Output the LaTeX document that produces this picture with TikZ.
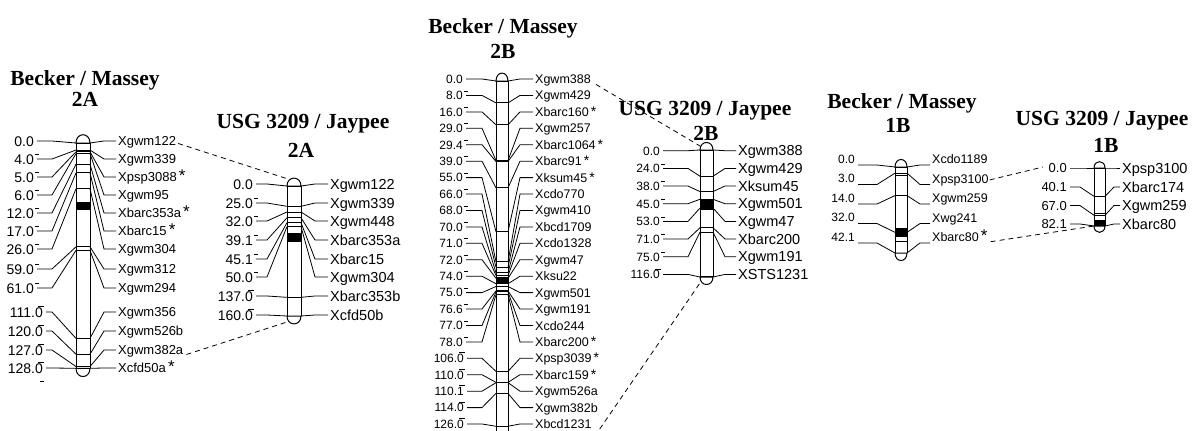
\documentclass[tikz,border=0pt]{standalone}
\usepackage{fontspec}
\setmainfont{Liberation Serif}
\setsansfont{Liberation Sans}
\usetikzlibrary{calc}
\tikzset{
  conn/.style={line width=0.8pt},
  barl/.style={line width=1pt},
  dconn/.style={line width=0.8pt, dash pattern=on 5pt off 4pt},
  ttl/.style={font=\rmfamily\bfseries\fontsize{21.5}{22}\selectfont, inner sep=0pt, anchor=base},
  lab/.style={inner sep=0pt},
}
\def\stfs{18}
\newcommand\st{\,\raisebox{0pt}{\fontsize{\stfs}{\stfs}\selectfont *}}
\newcommand\mapdraw[1]{%
  \fill[white] (\xl,\yo) rectangle (\xr,\yb);
  \extra
  \foreach \cmv/\ryv/\nmv/\mkv/\tkv [count=\i] in \rows {
    \pgfmathsetmacro\my{\yo+\kk*\cmv}
    \pgfmathsetmacro\nxx{\cmv>=100?\nxb:\nx}
    \pgfmathsetmacro\ly{\ryv+\loff}
    \node[lab, font=\sffamily\fontsize{\nfs}{\nfs}\selectfont, anchor=base east] (#1n\i) at (\nxx,\ryv+0.36*\nfs) {\nmv};
    \node[lab, font=\sffamily\fontsize{\mfs}{\mfs}\selectfont, anchor=base west] (#1m\i) at (\rt,\ryv+0.36*\mfs) {\mkv};
    \coordinate (#1a\i) at (\xl,\my);
    \coordinate (#1b\i) at (\xr,\my);
    \coordinate (#1p\i) at (\nxx+3,\ly);
    \coordinate (#1q\i) at (\rt-2,\ly);
    \draw[barl] (#1a\i) -- (#1b\i);
    \draw[conn] (#1p\i) -- (\lb,\ly) -- (#1a\i);
    \draw[conn] (#1b\i) -- (\rb,\ly) -- (#1q\i);
    \ifnum\tkv=1 \draw[conn] (\nxx+1,\ryv-4.5) -- ++(4,0);\fi
    \ifnum\tkv=2 \draw[conn] (\nxx-5,\ryv-5.5) -- ++(6,0);\fi
  }
  \draw[barl] (\xl,\yo) -- (\xl,\yb) (\xr,\yo) -- (\xr,\yb);
  \draw[barl, fill=white] (\xl,\yo) .. controls (\xl,\yo-\ch) and (\xr,\yo-\ch) .. (\xr,\yo) -- cycle;
  \ifnum\bcap=1
  \draw[barl, fill=white] (\xl,\yb) .. controls (\xl,\yb+\ch) and (\xr,\yb+\ch) .. (\xr,\yb) -- cycle;
  \fi
}
\begin{document}
\begin{tikzpicture}[x=1pt,y=-1pt]
\fill[white] (0,0) rectangle (1195,431);
\useasboundingbox (0,0) rectangle (1195,431);

% titles
\node[ttl] (t1a) at (85,85) {Becker / Massey};
\node[ttl] (t1b) at (85,106.5) {2A};
\node[ttl] (t2a) at (303,128) {USG 3209 / Jaypee};
\node[ttl] (t2b) at (301,157) {2A};
\node[ttl] (t3a) at (503,33) {Becker / Massey};
\node[ttl] (t3b) at (503,58) {2B};
\node[ttl] (t4a) at (705,115) {USG 3209 / Jaypee};
\node[ttl] (t4b) at (706,140) {2B};
\node[ttl] (t5a) at (902,108) {Becker / Massey};
\node[ttl] (t5b) at (898,132) {1B};
\node[ttl] (t6a) at (1102,125) {USG 3209 / Jaypee};
\node[ttl] (t6b) at (1106,152) {1B};

% Map 1: Becker / Massey 2A
\def\xl{76}\def\xr{90}\def\yo{143}\def\yb{368.3}\def\kk{1.7602}
\def\nx{34}\def\nxb{43}\def\lb{52}\def\rb{104}\def\rt{118}
\def\nfs{14}\def\mfs{13}\def\loff{0}\def\ch{11}\def\bcap{1}
\def\stfs{17}
\def\extra{\fill (\xl,202) rectangle (\xr,210);}
\def\rows{0/141/0.0/Xgwm122/0,
4/159/4.0/Xgwm339/1,
5/177/5.0/Xpsp3088\st/1,
6/195/6.0/Xgwm95/1,
12/213/12.0/Xbarc353a\st/1,
17/231/17.0/Xbarc15\st/1,
26/249/26.0/Xgwm304/1,
59/269/59.0/Xgwm312/1,
61/288/61.0/Xgwm294/1,
111/312/111.0/Xgwm356/2,
120/331/120.0/Xgwm526b/2,
127/350/127.0/Xgwm382a/2,
128/368/128.0/Xcfd50a\st/2}
\mapdraw{a}
\draw[conn] (40,381) -- (44,381);

% Map 2: USG 3209 / Jaypee 2A
\def\xl{287}\def\xr{301}\def\yo{186}\def\yb{316}\def\kk{0.8125}
\def\nx{253}\def\nxb{253}\def\lb{267}\def\rb{315}\def\rt{330}
\def\nfs{14}\def\mfs{14.5}\def\loff{0}\def\ch{10.5}\def\bcap{1}
\def\extra{\fill (\xl,233) rectangle (\xr,242);}
\def\rows{0/184/0.0/Xgwm122/0,
25/203/25.0/Xgwm339/1,
32/221/32.0/Xgwm448/1,
39.1/240/39.1/Xbarc353a/1,
45.1/259/45.1/Xbarc15/1,
50/277/50.0/Xgwm304/1,
137/296/137.0/Xbarc353b/2,
160/315/160.0/Xcfd50b/2}
\mapdraw{b}

% Map 3: Becker / Massey 2B
\def\xl{496}\def\xr{508}\def\yo{81}\def\yb{434}\def\kk{2.74}
\def\nx{463}\def\nxb{464}\def\lb{482}\def\rb{520}\def\rt{535}
\def\nfs{12}\def\mfs{12.5}\def\loff{0}\def\ch{10.5}\def\bcap{0}
\def\stfs{14}
\def\extra{\fill (\xl,277) rectangle (\xr,283);}
\def\rows{0/79/0.0/Xgwm388/0,
8/95.4/8.0/Xgwm429/1,
16/111.9/16.0/Xbarc160\st/1,
29/128.3/29.0/Xgwm257/1,
29.4/144.7/29.4/Xbarc1064\st/1,
39/161.2/39.0/Xbarc91\st/1,
55/177.6/55.0/Xksum45\st/1,
66/194/66.0/Xcdo770/1,
68/210.4/68.0/Xgwm410/1,
70/226.9/70.0/Xbcd1709/1,
71/243.3/71.0/Xcdo1328/1,
72/259.7/72.0/Xgwm47/1,
74/276.2/74.0/Xksu22/1,
75/292.6/75.0/Xgwm501/1,
76.6/309/76.6/Xgwm191/1,
77/325.5/77.0/Xcdo244/1,
78/341.9/78.0/Xbarc200\st/1,
106/358.3/106.0/Xpsp3039\st/2,
110/374.7/110.0/Xbarc159\st/2,
110.1/391.2/110.1/Xgwm526a/2,
114/407.6/114.0/Xgwm382b/2,
126/424/126.0/Xbcd1231/2}
\mapdraw{c}

% Map 4: USG 3209 / Jaypee 2B
\def\xl{700}\def\xr{713}\def\yo{150}\def\yb{277}\def\kk{1.0948}
\def\nx{660}\def\nxb{660}\def\lb{688}\def\rb{725}\def\rt{738}
\def\nfs{12}\def\mfs{14.5}\def\loff{0}\def\ch{10}\def\bcap{1}
\def\extra{\fill (\xl,200) rectangle (\xr,210);}
\def\rows{0/150.7/0.0/Xgwm388/0,
24/168.4/24.0/Xgwm429/1,
38/186/38.0/Xksum45/1,
45/203.7/45.0/Xgwm501/1,
53/221.4/53.0/Xgwm47/1,
71/239/71.0/Xbarc200/1,
75/256.7/75.0/Xgwm191/1,
116/274.4/116.0/XSTS1231/2}
\mapdraw{d}

% Map 5: Becker / Massey 1B
\def\xl{895}\def\xr{907}\def\yo{167}\def\yb{253}\def\kk{2.0428}
\def\nx{855}\def\nxb{855}\def\lb{877}\def\rb{920}\def\rt{932}
\def\nfs{12}\def\mfs{12.5}\def\loff{6}\def\ch{10}\def\bcap{1}
\def\stfs{17}
\def\extra{\fill (\xl,228) rectangle (\xr,237); \draw[barl] (\xl,175.5) -- (\xr,175.5) (\xl,241) -- (\xr,241);}
\def\rows{0/159/0.0/Xcdo1189/0,
3/178.5/3.0/Xpsp3100/0,
14/198/14.0/Xgwm259/0,
32/217.5/32.0/Xwg241/0,
42.1/237/42.1/Xbarc80\st/0}
\mapdraw{e}

% Map 6: USG 3209 / Jaypee 1B
\def\xl{1094}\def\xr{1105}\def\yo{168}\def\yb{226}\def\kk{0.7064}
\def\nx{1067}\def\nxb{1067}\def\lb{1080}\def\rb{1114}\def\rt{1122}
\def\nfs{13}\def\mfs{14.5}\def\loff{0}\def\ch{8.5}\def\bcap{1}
\def\extra{\fill (\xl,219.5) rectangle (\xr,226); \draw[barl] (\xl,213) -- (\xr,213);}
\def\rows{0/168/0.0/Xpsp3100/0,
40.1/187/40.1/Xbarc174/0,
67/205.5/67.0/Xgwm259/0,
82.1/224/82.1/Xbarc80/0}
\mapdraw{f}

% dashed links between maps
\coordinate (k1) at (288,179);
\coordinate (k2) at (287,322);
\coordinate (k3) at (700,146);
\coordinate (k4) at (700,283);
\coordinate (k5) at (1043,167);
\coordinate (k6) at (1094,226);
\draw[dconn] ($(am1.east)+(2,1)$) -- (k1);
\draw[dconn] ($(am12.east)+(3,3)$) -- (k2);
\draw[dconn] ($(cm1.east)+(5,4)$) -- (k3);
\draw[dconn] ($(cm22.east)+(8,5)$) -- (k4);
\draw[dconn] ($(em2.east)+(1,0)$) -- (k5);
\draw[dconn] ($(em5.east)+(3,6)$) -- (k6);
\end{tikzpicture}
\end{document}
